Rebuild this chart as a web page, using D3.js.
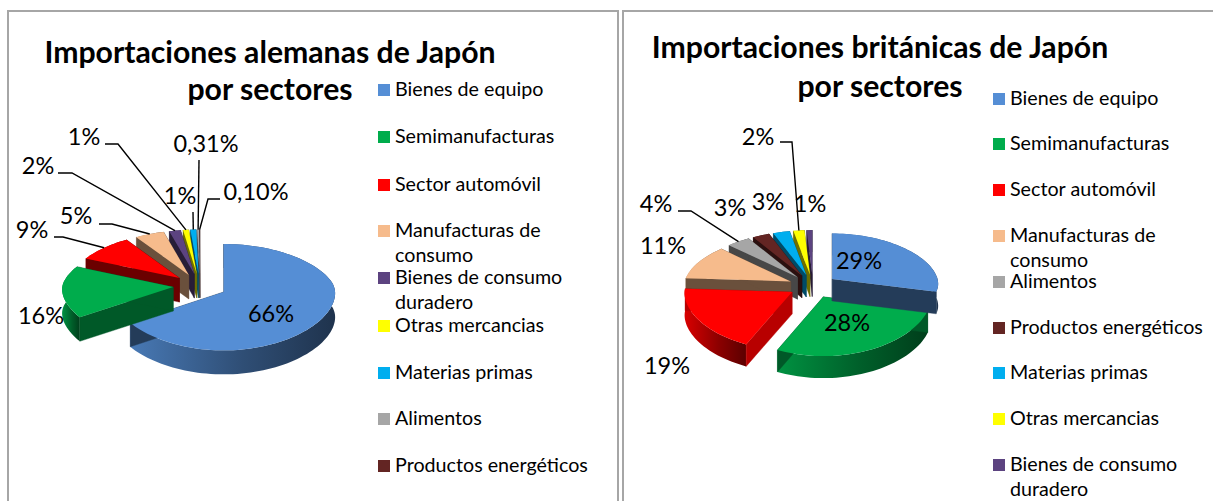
<!DOCTYPE html>
<html><head><meta charset="utf-8">
<style>html,body{margin:0;padding:0;background:#fff;overflow:hidden}svg{display:block}text{font-family:Lato,"Open Sans",sans-serif;fill:#000}</style>
<script src="https://cdn.jsdelivr.net/npm/d3@7"></script></head><body>
<svg id="c" width="1213" height="501"></svg>
<script>
// ---- data ----
const titleLeft = ["Importaciones alemanas de Japón", "por sectores"];
const titleRight = ["Importaciones británicas de Japón", "por sectores"];
const catsLeft = ["Bienes de equipo","Semimanufacturas","Sector automóvil","Manufacturas de consumo","Bienes de consumo duradero","Otras mercancias","Materias primas","Alimentos","Productos energéticos"];
const valsLeft = [66,16,9,5,2,1,1,0.31,0.10];
const textLeft = ["66%","16%","9%","5%","2%","1%","1%","0,31%","0,10%"];
const catsRight = ["Bienes de equipo","Semimanufacturas","Sector automóvil","Manufacturas de consumo","Alimentos","Productos energéticos","Materias primas","Otras mercancias","Bienes de consumo duradero"];
const valsRight = [29,28,19,11,4,3,3,2,1];
const textRight = ["29%","28%","19%","11%","4%","3%","3%","2%","1%"];
const palette = {"Bienes de equipo":"#558ed5","Semimanufacturas":"#00ac4c","Sector automóvil":"#ff0000","Manufacturas de consumo":"#f6bb8c","Bienes de consumo duradero":"#5c4380","Otras mercancias":"#ffff00","Materias primas":"#00aeef","Alimentos":"#a6a6a6","Productos energéticos":"#632523"};

// ---- layout (not data) ----
const wrapLines = {"Manufacturas de consumo":["Manufacturas de","consumo"],"Bienes de consumo duradero":["Bienes de consumo","duradero"]};
const charts = [
 {cats:catsLeft, vals:valsLeft, text:textLeft, title:titleLeft, titleX:270, titleY:[63,100],
  cx:200, cy:286, rx:112, ry:52, explode:.24, depth:24, order:[0,8,7,6,5,4,3,2,1],
  frame:[8,11,610], legendX:378, textX:395, legendY:[91,138,186,232,279,327,374,420,467],
  cutShade:[.42,.52,.42,.43,.43,.43,.43,.43,.43],
  labels:[[271,314],[41,316],[32,230],[76,216],[38,166],[84,137],[180,196],[206,144],[256,192]],
  leaders:[null,null,[[54,237],[63,237]],[[99,224],[112,224]],[[58,173],[72,173]],[[105,144],[118,144]],[[193,212]],[[199,160]],[[220,199],[208,199]]]},
 {cats:catsRight, vals:valsRight, text:textRight, title:titleRight, titleX:880, titleY:[58,97],
  cx:813, cy:286, rx:108, ry:52, explode:.225, depth:22, order:[8,7,6,5,4,3,2,1,0],
  frame:[623,11,592], legendX:993, textX:1010, legendY:[100,145,191,237,283,329,374,420,466],
  cutShade:[.42,.52,.72,.43,.43,.43,.43,.43,.43],
  labels:[[859,261],[847,323],[667,366],[663,246],[656,204],[730,208],[768,202],[758,137],[810,204]],
  leaders:[null,null,null,null,[[678,211],[691,211]],null,null,[[780,142],[792,142]],null]}
];
const svg = d3.select("#c"), defs = svg.append("defs");
const perspY = .1, perspX = .15;
const line = d3.line();
let gid = 0;
const shade = (c,f)=>{const r=d3.rgb(c);return d3.rgb(r.r*f,r.g*f,r.b*f).formatHex();};

charts.forEach(ch=>{
  svg.append("path").attr("d",`M${ch.frame[0]},501V${ch.frame[1]}H${ch.frame[0]+ch.frame[2]}V501`)
     .attr("fill","none").attr("stroke","#a6a6a6").attr("stroke-width",2);
  const arcs = d3.pie().sort(null).value(d=>d)(ch.vals);
  // p = [offset u, offset v, rim u, rim v] on the unit disc
  const proj = (p,dz=0)=>{
    const v=p[1]+p[3], s=(v+Math.sqrt(v*v+.02))/2;
    return [ch.cx+ch.rx*(p[0]+p[2]*(1-perspX*s)), ch.cy-ch.ry*v*(1-perspY*v)+dz];
  };
  const geom = arcs.map(a=>{
    const mid=(a.startAngle+a.endAngle)/2;
    const ou=ch.explode*Math.sin(mid), ov=ch.explode*Math.cos(mid);
    const n=Math.max(2,Math.ceil((a.endAngle-a.startAngle)/0.04));
    const rim=d3.range(n+1).map(i=>{const t=a.startAngle+(a.endAngle-a.startAngle)*i/n;return [ou,ov,Math.sin(t),Math.cos(t)];});
    return {a,mid,apex:[ou,ov,0,0],rim,tip:[ou,ov,Math.sin(mid),Math.cos(mid)]};
  });
  ch.order.forEach(i=>{
    const g=geom[i], col=palette[ch.cats[i]];
    const cut=shade(col,ch.cutShade[i]);
    const face=(pts)=>svg.append("path").attr("d",line(pts)+"Z");
    // outer wall with horizontal gradient
    const wall=g.rim.map(p=>proj(p)).concat(g.rim.slice().reverse().map(p=>proj(p,ch.depth)));
    const id="g"+(gid++), xs=d3.extent(g.rim.map(p=>proj(p)[0]));
    const gr=defs.append("linearGradient").attr("id",id).attr("gradientUnits","userSpaceOnUse")
       .attr("x1",xs[0]).attr("x2",xs[1]).attr("y1",0).attr("y2",0);
    gr.append("stop").attr("offset",0).attr("stop-color",shade(col,.85));
    gr.append("stop").attr("offset",.55).attr("stop-color",shade(col,.55));
    gr.append("stop").attr("offset",1).attr("stop-color",shade(col,.36));
    face(wall).attr("fill",`url(#${id})`);
    // radial cut walls
    [g.rim[0],g.rim[g.rim.length-1]].forEach(e=>{
      face([proj(g.apex),proj(e),proj(e,ch.depth),proj(g.apex,ch.depth)]).attr("fill",cut).attr("stroke",cut).attr("stroke-width",.4);
    });
    // top surface
    face([proj(g.apex)].concat(g.rim.map(p=>proj(p)))).attr("fill",col);
  });
  // leaders
  ch.leaders.forEach((pts,i)=>{
    if(!pts) return;
    svg.append("path").attr("d",line(pts.concat([proj(geom[i].tip)])))
       .attr("fill","none").attr("stroke","#000").attr("stroke-width",1.4);
  });
  // data labels
  ch.text.forEach((t,i)=>svg.append("text").attr("x",ch.labels[i][0]).attr("y",ch.labels[i][1]).attr("dy","0.36em")
     .attr("text-anchor","middle").attr("font-size",23.5).text(t));
  // title
  ch.title.forEach((t,i)=>svg.append("text").attr("x",ch.titleX).attr("y",ch.titleY[i]).attr("text-anchor","middle")
     .attr("font-size",30.2).attr("font-weight",700).text(t));
  // legend
  ch.cats.forEach((c,i)=>{
    const y=ch.legendY[i];
    svg.append("rect").attr("x",ch.legendX).attr("y",y-7).attr("width",12).attr("height",12).attr("fill",palette[c]);
    (wrapLines[c]||[c]).forEach((s,j)=>svg.append("text").attr("x",ch.textX).attr("y",y+5+j*25).attr("font-size",19.7).text(s));
  });
});
</script></body></html>
